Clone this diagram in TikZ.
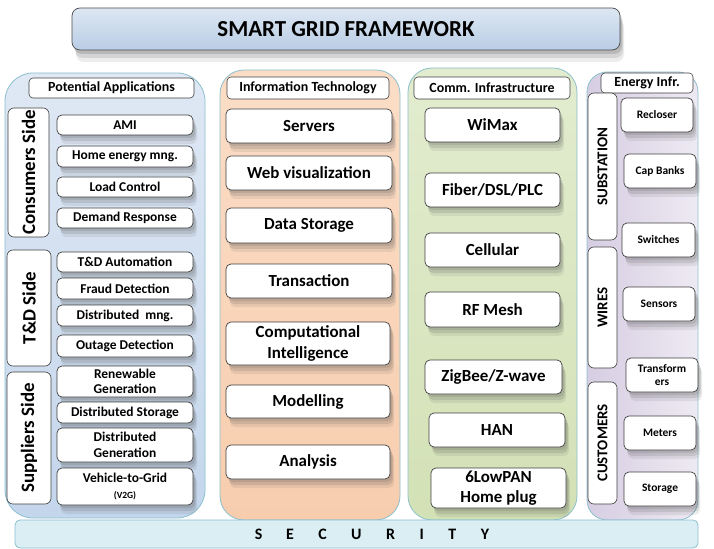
\documentclass[tikz,border=0pt]{standalone}
\usepackage{fontspec}
\setmainfont{Carlito}
\usetikzlibrary{shadows}
\definecolor{colA}{HTML}{C4D6EC}
\definecolor{colAt}{HTML}{DFE8F4}
\definecolor{colB}{HTML}{F7CDAE}
\definecolor{colBt}{HTML}{FBDDC6}
\definecolor{colC}{HTML}{D3E1B6}
\definecolor{colCt}{HTML}{E2ECCF}
\definecolor{colD}{HTML}{D6CDE2}
\definecolor{colDt}{HTML}{EEEAF3}
\definecolor{colEdge}{HTML}{8CC0CF}
\definecolor{secFill}{HTML}{DAEEF4}
\definecolor{titleTop}{HTML}{DDE7F3}
\definecolor{titleBot}{HTML}{B9CDE5}
\newcommand\bx[7]{\node[#1, minimum width={(#5-#3)*1bp}, minimum height={(#6-#4)*1bp}] (#2) at ({(#3+#5)/2},{(#4+#6)/2}) {#7};}
\begin{document}
\begin{tikzpicture}[x=1bp,y=-1bp,font=\bfseries,
  sh/.style={drop shadow={shadow xshift=2bp,shadow yshift=-3bp,opacity=0.15,fill=black!70},
             drop shadow={shadow xshift=3bp,shadow yshift=-6bp,opacity=0.15,fill=black!70},
             drop shadow={shadow xshift=4bp,shadow yshift=-9bp,opacity=0.1,fill=black!70}},
  item/.style={draw=black!75,fill=white,rounded corners=5bp,line width=0.7bp,inner sep=0pt,align=center,sh},
  head/.style={draw=black!75,fill=white,rounded corners=4bp,line width=0.6bp,inner sep=0pt,align=center,
    font=\bfseries\fontsize{14}{15}\selectfont},
  side/.style={draw=black!75,fill=white,rounded corners=6bp,line width=0.6bp,inner sep=0pt},
  itA/.style={item,font=\bfseries\fontsize{13.5}{15.5}\selectfont},
  itB/.style={item,font=\bfseries\fontsize{17}{20.5}\selectfont},
  itD/.style={item,font=\bfseries\fontsize{11.5}{13}\selectfont},
  column/.style={draw=colEdge,line width=0.8bp,inner sep=0pt},
  sidetxt/.style={rotate=90,font=\bfseries\fontsize{19}{20}\selectfont},
  sidetxtD/.style={rotate=90,font=\bfseries\fontsize{15}{16}\selectfont}]
\useasboundingbox[fill=white] (0,0) rectangle (714,549);

% title
\bx{draw=black!70,line width=0.7bp,rounded corners=8bp,top color=titleTop,bottom color=titleBot,
  inner sep=0pt,
  drop shadow={shadow xshift=2bp,shadow yshift=-4bp,opacity=0.2,fill=black!70},
  drop shadow={shadow xshift=3bp,shadow yshift=-8bp,opacity=0.15,fill=black!70},
  drop shadow={shadow xshift=4bp,shadow yshift=-12bp,opacity=0.1,fill=black!70},
  font=\bfseries\fontsize{23}{25}\selectfont}{title}{72}{8}{620}{50}{SMART GRID FRAMEWORK}

% columns
\bx{column,rounded corners=28bp,top color=colAt,bottom color=colA}{colA}{5}{73}{205}{518}{}
\bx{column,rounded corners=24bp,top color=colBt,bottom color=colB}{colB}{220}{70}{400}{520}{}
\bx{column,rounded corners=24bp,top color=colCt,bottom color=colC}{colC}{408}{68}{577}{520}{}
\bx{column,rounded corners=20bp,left color=colD,right color=colDt}{colD}{587}{72}{698}{520}{}

% security bar
\bx{draw=colEdge,fill=secFill,rounded corners=5bp,line width=0.8bp,inner sep=0pt}{sec}{15}{520}{698}{548}{}
\node[font=\bfseries\fontsize{16}{18}\selectfont] (sectxt) at (372,534)
  {S\hspace{23.5bp}E\hspace{24.5bp}C\hspace{24.5bp}U\hspace{24.5bp}R\hspace{24.5bp}I\hspace{24.5bp}T\hspace{24.5bp}Y};

% column 1
\bx{head}{hA}{29}{78}{194}{98}{Potential Applications}
\bx{side}{cons}{8}{108}{49}{237}{}
\node[sidetxt] (constxt) at (cons) {Consumers Side};
\bx{side}{td}{7}{250}{51}{366}{}
\node[sidetxt] (tdtxt) at (td) {T\&D Side};
\bx{side}{sup}{7}{372}{51}{504}{}
\node[sidetxt] (suptxt) at (sup) {Suppliers Side};
\bx{itA}{ami}{57}{115}{193}{135}{AMI}
\bx{itA}{home}{57}{146}{193}{167}{Home energy mng.}
\bx{itA}{load}{57}{177}{193}{197}{Load Control}
\bx{itA}{dr}{57}{208}{193}{228}{Demand Response}
\bx{itA}{tda}{57}{252}{193}{272}{T\&D Automation}
\bx{itA}{fraud}{57}{278}{193}{299}{Fraud Detection}
\bx{itA}{dmng}{57}{305}{193}{326}{Distributed\ \ mng.}
\bx{itA}{outage}{57}{335}{193}{357}{Outage Detection}
\bx{itA}{renew}{57}{366}{193}{397}{Renewable\\Generation}
\bx{itA}{dstor}{57}{402}{193}{423}{Distributed Storage}
\bx{itA}{dgen}{57}{428}{193}{462}{Distributed\\Generation}
\bx{itA}{v2g}{57}{468}{193}{505}{Vehicle-to-Grid\\{\fontsize{9.5}{11}\selectfont(V2G)}}

% column 2
\bx{head}{hB}{227}{77}{389}{99}{Information Technology}
\bx{itB}{servers}{226}{109}{392}{143}{Servers}
\bx{itB}{web}{226}{156}{392}{190}{Web visualization}
\bx{itB}{data}{226}{208}{392}{243}{Data Storage}
\bx{itB}{trans}{226}{264}{392}{298}{Transaction}
\bx{itB}{ci}{226}{322}{390}{365}{Computational\\Intelligence}
\bx{itB}{model}{226}{385}{390}{418}{Modelling}
\bx{itB}{anal}{226}{445}{390}{479}{Analysis}

% column 3
\bx{head}{hC}{414}{77}{570}{99}{Comm. Infrastructure}
\bx{itB}{wimax}{425}{108}{560}{142}{WiMax}
\bx{itB}{fiber}{425}{173}{560}{207}{Fiber/DSL/PLC}
\bx{itB}{cell}{425}{233}{560}{267}{Cellular}
\bx{itB}{rf}{425}{292}{560}{327}{RF Mesh}
\bx{itB}{zig}{425}{360}{562}{394}{ZigBee/Z-wave}
\bx{itB}{han}{429}{413}{565}{447}{HAN}
\bx{itB}{six}{431}{468}{566}{508}{6LowPAN\\Home plug}

% column 4
\bx{head}{hD}{601}{73}{693}{93}{Energy Infr.}
\bx{side}{subst}{588}{93}{617}{240}{}
\node[sidetxtD] (substtxt) at (subst) {SUBSTATION};
\bx{side}{wires}{588}{247}{617}{368}{}
\node[sidetxtD] (wirestxt) at (wires) {WIRES};
\bx{side}{cust}{588}{382}{617}{504}{}
\node[sidetxtD] (custtxt) at (cust) {CUSTOMERS};
\bx{itD}{recl}{621}{98}{693}{132}{Recloser}
\bx{itD}{cap}{624}{154}{696}{188}{Cap Banks}
\bx{itD}{switch}{622}{223}{695}{257}{Switches}
\bx{itD}{sens}{623}{287}{695}{321}{Sensors}
\bx{itD}{transf}{626}{358}{698}{392}{Transform\\ers}
\bx{itD}{meters}{624}{416}{696}{450}{Meters}
\bx{itD}{stor}{624}{472}{696}{506}{Storage}
\end{tikzpicture}
\end{document}
